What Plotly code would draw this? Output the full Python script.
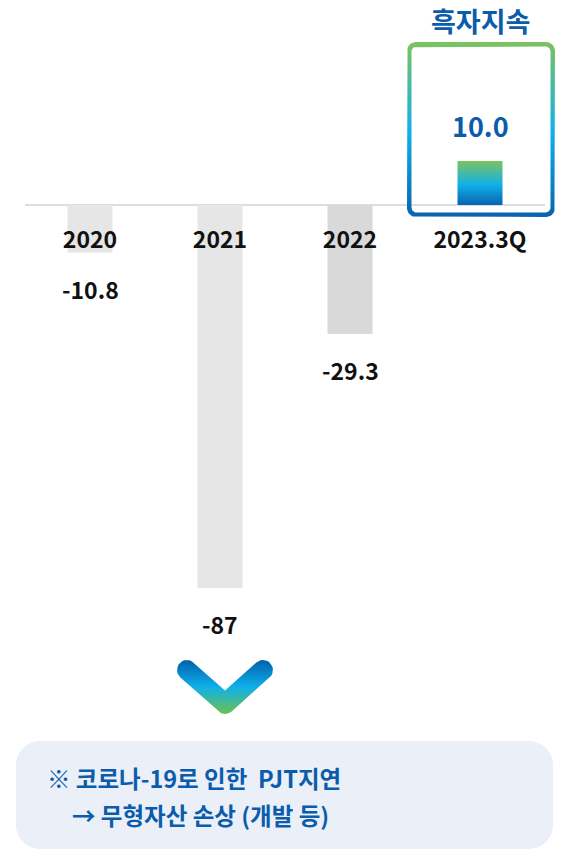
import numpy as np
import plotly.graph_objects as go

W, H = 565, 851

categories = ["2020", "2021", "2022", "2023.3Q"]
values = [-10.8, -87, -29.3, 10.0]
value_labels = ["-10.8", "-87", "-29.3", "10.0"]
bar_colors = ["#e6e6e6", "#e6e6e6", "#d9d9d9"]
headline = "흑자지속"
note_lines = ["※ 코로나-19로 인한&nbsp; PJT지연", "→ 무형자산 손상 (개발 등)"]

FONT = "Noto Sans CJK KR"
BLUE = "#0b5cab"
C_BLUE, C_CYAN, C_GREEN = "#0a62b0", "#0fb0ea", "#7cc35f"

# pixel layout of the value axis: zero line at y=205, 4.4 px per unit
ZERO_PX = 205
PX_PER_UNIT = 383 / 87
X0_PX, STEP_PX = 90, 130
BAR_W = 45 / STEP_PX


def to_up(pts):
    # pixel coords (y down) -> overlay axis coords (y up)
    return [p[0] for p in pts], [H - p[1] for p in pts]


def rrect(x0, y0, x1, y1, r, n=10):
    pts = []
    for cx, cy, a0 in [(x1 - r, y0 + r, -90), (x1 - r, y1 - r, 0),
                       (x0 + r, y1 - r, 90), (x0 + r, y0 + r, 180)]:
        for a in np.radians(np.linspace(a0, a0 + 90, n)):
            pts.append((cx + r * np.cos(a), cy + r * np.sin(a)))
    return pts


def ring(outer, inner):
    inner_rev = [inner[0]] + inner[1:][::-1]
    return outer + [outer[0]] + inner_rev + [inner_rev[0], outer[0]]


def chevron(p0, v, p2, h, n=14):
    p0, v, p2 = (np.array(p, float) for p in (p0, v, p2))
    u1 = (v - p0) / np.linalg.norm(v - p0)
    u2 = (p2 - v) / np.linalg.norm(p2 - v)
    nl = np.array([-u1[1], u1[0]])
    nr = np.array([-u2[1], u2[0]])
    ang = lambda d: np.degrees(np.arctan2(d[1], d[0]))

    def arc(c, a_from, a_to):
        return [c + h * np.array([np.cos(a), np.sin(a)])
                for a in np.radians(np.linspace(a_from, a_to, n))]

    pts = [p0 + h * nl]
    pts += arc(v, ang(nl), ang(nr))
    pts += arc(p2, ang(nr), ang(nr) - 180)
    pts.append(v - np.array([0, h / abs(nl[1])]))
    pts += arc(p0, ang(-nl), ang(-nl) - 180)
    pts.append(pts[0])
    return [tuple(p) for p in pts]


fig = go.Figure()

# grey bars for the loss years
fig.add_trace(go.Bar(
    x=list(range(3)), y=values[:3], width=BAR_W,
    marker=dict(color=bar_colors, line_width=0),
    showlegend=False, hoverinfo="skip",
))

# 2023.3Q bar with vertical gradient
i, v = 3, values[3]
fig.add_trace(go.Scatter(
    x=[i - BAR_W / 2, i + BAR_W / 2, i + BAR_W / 2, i - BAR_W / 2, i - BAR_W / 2],
    y=[0, 0, v, v, 0],
    mode="lines", fill="toself", line=dict(width=0, color="rgba(0,0,0,0)"),
    fillgradient=dict(type="vertical",
                      colorscale=[[0, C_BLUE], [0.45, C_CYAN], [1, C_GREEN]]),
    showlegend=False, hoverinfo="skip",
))

# gradient frame round the last bar
fx, fy = to_up(ring(rrect(407, 42, 555, 217, 9), rrect(411.5, 46.5, 550.5, 212.5, 5)))
fig.add_trace(go.Scatter(
    x=fx, y=fy, xaxis="x2", yaxis="y2",
    mode="lines", fill="toself", line=dict(width=0, color="rgba(0,0,0,0)"),
    fillgradient=dict(type="vertical",
                      colorscale=[[0, C_BLUE], [0.48, C_CYAN], [1, C_GREEN]]),
    showlegend=False, hoverinfo="skip",
))

# down chevron under 2021
ax_, ay_ = to_up(chevron((187, 670), (225, 704), (263, 670), 10))
fig.add_trace(go.Scatter(
    x=ax_, y=ay_, xaxis="x2", yaxis="y2",
    mode="lines", fill="toself", line=dict(width=0, color="rgba(0,0,0,0)"),
    fillgradient=dict(type="vertical",
                      colorscale=[[0, "#6cc04f"], [0.5, C_CYAN], [1, "#0060ad"]]),
    showlegend=False, hoverinfo="skip",
))

# value labels
for i, (v, t) in enumerate(zip(values, value_labels)):
    pos = v > 0
    fig.add_annotation(
        x=i, y=v, text=t, showarrow=False,
        yshift=35 if pos else -36, yanchor="middle",
        font=dict(family=FONT, size=27 if pos else 23,
                  color=BLUE if pos else "#111111", weight="bold"),
    )

fig.add_annotation(
    x=3, xref="x", y=H - 20, yref="y2", text=headline, showarrow=False,
    yanchor="middle", font=dict(family=FONT, size=27, color=BLUE, weight="bold"),
)

# note box
box = rrect(16, 741, 553, 849, 24)
bx, by = to_up(box)
path = "M " + " L ".join(f"{x:.1f},{y:.1f}" for x, y in zip(bx, by)) + " Z"
shapes = [
    dict(type="path", path=path, xref="x2", yref="y2",
         fillcolor="#eaeff8", line_width=0, layer="below"),
    dict(type="line", xref="x2", yref="y", x0=25, x1=545, y0=0, y1=0,
         line=dict(color="#dddddd", width=2), layer="below"),
]
for t, x, y in zip(note_lines, [45, 70], [778, 815]):
    fig.add_annotation(
        x=x, y=H - y, xref="x2", yref="y2", text=t, showarrow=False,
        xanchor="left", yanchor="middle",
        font=dict(family=FONT, size=23.5, color=BLUE, weight="bold"),
    )

x_lo = -X0_PX / STEP_PX
x_hi = (W - X0_PX) / STEP_PX
y_hi = ZERO_PX / PX_PER_UNIT
y_lo = -(H - ZERO_PX) / PX_PER_UNIT

fig.update_layout(
    width=W, height=H,
    margin=dict(l=0, r=0, t=0, b=0),
    paper_bgcolor="white", plot_bgcolor="white",
    shapes=shapes,
    xaxis=dict(
        range=[x_lo, x_hi], tickmode="array",
        tickvals=list(range(len(categories))), ticktext=categories,
        anchor="free", position=1 - ZERO_PX / H,
        showgrid=False, zeroline=False, showline=False, ticks="",
        ticklabelstandoff=19,
        tickfont=dict(family=FONT, size=23, color="#111111", weight="bold"),
        fixedrange=True,
    ),
    yaxis=dict(range=[y_lo, y_hi], visible=False, fixedrange=True),
    xaxis2=dict(range=[0, W], overlaying="x", visible=False, fixedrange=True),
    yaxis2=dict(range=[0, H], overlaying="y", visible=False, fixedrange=True),
    showlegend=False,
)

fig.write_html("out.html", config={"displayModeBar": False},
               post_script="document.body.style.margin='0';")
